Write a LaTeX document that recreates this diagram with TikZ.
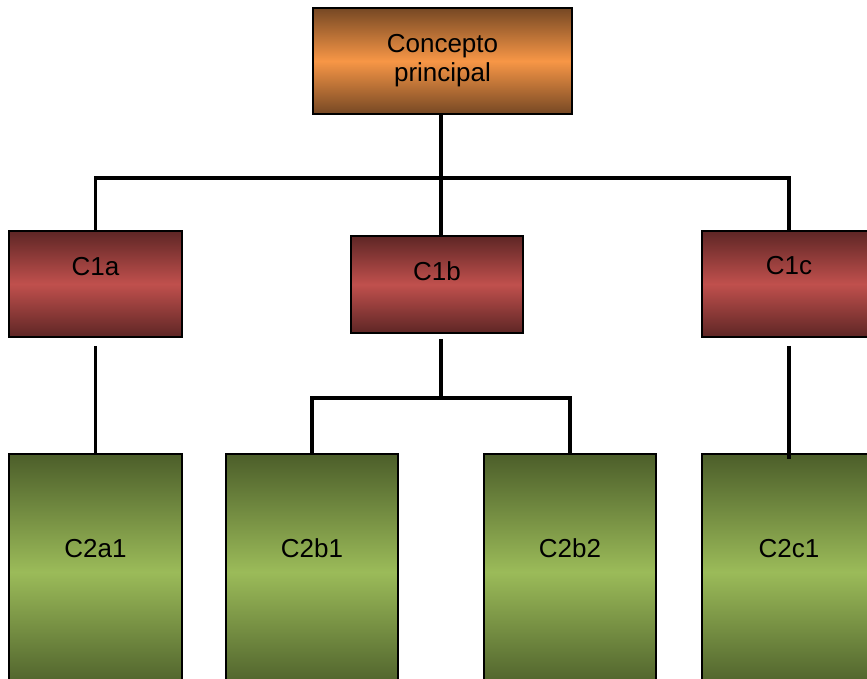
\documentclass[tikz,border=0pt]{standalone}
\usepackage{fontspec}
\setmainfont{Liberation Sans}
\usepackage{tikz}
\usetikzlibrary{positioning}
\definecolor{cmorange}{RGB}{247,150,70}
\definecolor{cmdarkorange}{RGB}{118,72,36}
\definecolor{cmred}{RGB}{192,80,77}
\definecolor{cmdarkred}{RGB}{94,38,37}
\definecolor{cmgreen}{RGB}{155,187,89}
\definecolor{cmdarkgreen}{RGB}{76,94,42}
\tikzstyle{link} = [line width=3.5pt, color=black]

\begin{document}
\begin{tikzpicture}[
    x=1pt, y=-1pt,
    every node/.style={font=\fontsize{26}{29}\selectfont},
    mainbox/.style={rectangle, draw=black, line width=1.5pt, top color=cmdarkorange, bottom color=cmdarkorange, middle color=cmorange, minimum width=259pt, minimum height=106pt, align=center, inner sep=0pt},
    levelbox/.style={rectangle, draw=black, line width=1.5pt, top color=cmdarkred, bottom color=cmdarkred, middle color=cmred, minimum width=173pt, inner sep=0pt, text height=18pt},
    leafbox/.style={rectangle, draw=black, line width=1.5pt, top color=cmdarkgreen, bottom color=cmdarkgreen, middle color=cmgreen, minimum width=172pt, minimum height=236pt, inner sep=0pt, text height=18pt, text depth=48pt}
]

\useasboundingbox (0,0) rectangle (867,679);
\clip (0,0) rectangle (867,679);

% Main concept
\node[mainbox] (main) at (442.5,61) {Concepto\\principal};

% First level
\node[levelbox, minimum height=106pt, text depth=36pt] (c1a) at (95.5,284) {C1a};
\node[levelbox, minimum width=172pt, minimum height=97pt, text depth=26pt] (c1b) at (437,284.5) {C1b};
\node[levelbox, minimum width=174pt, minimum height=106pt, text depth=38pt] (c1c) at (789,284) {C1c};

% Second level
\node[leafbox, minimum width=173pt] (c2a1) at (95.5,572) {C2a1};
\node[leafbox] (c2b1) at (312,572) {C2b1};
\node[leafbox] (c2b2) at (570,572) {C2b2};
\node[leafbox, minimum width=174pt] (c2c1) at (789,572) {C2c1};

% Bus lines
\coordinate (bus1) at (441,178);
\coordinate (bus2) at (441,398);

% Links
\draw[link] (main.south -| bus1) -- (c1b.north -| bus1);
\draw[link] (c1a.north) |- (bus1) -| (c1c.north);
\draw[link, shorten <=8pt] (c1a.south) -- (c2a1.north);
\draw[link, shorten <=5pt] (c1b.south -| bus2) -- (bus2);
\draw[link] (c2b1.north) |- (bus2) -| (c2b2.north);
\draw[link, shorten <=8pt, shorten >=-6pt] (c1c.south) -- (c2c1.north);

\end{tikzpicture}
\end{document}
